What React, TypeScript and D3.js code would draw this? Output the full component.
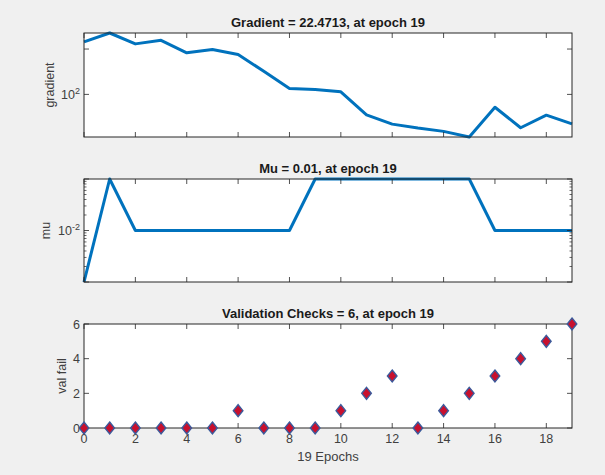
import React from 'react';
import * as d3 from 'd3';

// values
const epochs = d3.range(0, 20);
const gradient = [1437, 2258, 1300, 1556, 826, 975, 759, 323, 135, 129, 114, 35.3, 22.1, 18.1, 15.3, 11.5, 52, 18.4, 34.8, 22.4713];
const mu = [0.001, 0.1, 0.01, 0.01, 0.01, 0.01, 0.01, 0.01, 0.01, 0.1, 0.1, 0.1, 0.1, 0.1, 0.1, 0.1, 0.01, 0.01, 0.01, 0.01];
const valFail = [0, 0, 0, 0, 0, 0, 1, 0, 0, 0, 1, 2, 3, 0, 1, 2, 3, 4, 5, 6];
const xTicks = [0, 2, 4, 6, 8, 10, 12, 14, 16, 18];
const valTicks = [0, 2, 4, 6];

const W = 605;
const H = 475;
const left = 84;
const right = 572;
const font = 'Liberation Sans, Arial, sans-serif';
const axisColor = '#262626';
const lineColor = '#0072BD';

const x = d3.scaleLinear().domain([0, 19]).range([left, right]);

const Panel = ({ top, bottom, title, ylabel, ylabelX, children, yScale, majors, labels, minors, showXLabels }) => {
  return (
    <g>
      <rect x={left} y={top} width={right - left} height={bottom - top} fill="#fff" />
      {children}
      {/* x ticks, top and bottom, inward */}
      {xTicks.map(t => (
        <g key={'xt' + t}>
          <line x1={x(t)} x2={x(t)} y1={bottom} y2={bottom - 5} stroke={axisColor} strokeWidth={0.8} />
          <line x1={x(t)} x2={x(t)} y1={top} y2={top + 5} stroke={axisColor} strokeWidth={0.8} />
        </g>
      ))}
      {majors.map(v => (
        <g key={'ym' + v}>
          <line x1={left} x2={left + 5} y1={yScale(v)} y2={yScale(v)} stroke={axisColor} strokeWidth={0.8} />
          <line x1={right} x2={right - 5} y1={yScale(v)} y2={yScale(v)} stroke={axisColor} strokeWidth={0.8} />
        </g>
      ))}
      {(minors || []).map(v => (
        <g key={'yn' + v}>
          <line x1={left} x2={left + 2.5} y1={yScale(v)} y2={yScale(v)} stroke={axisColor} strokeWidth={0.7} />
          <line x1={right} x2={right - 2.5} y1={yScale(v)} y2={yScale(v)} stroke={axisColor} strokeWidth={0.7} />
        </g>
      ))}
      <rect x={left} y={top} width={right - left} height={bottom - top} fill="none" stroke={axisColor} strokeWidth={1} />
      {labels.map(l => (
        <text key={'yl' + l.v} x={left - 4} y={yScale(l.v) + 4.5} textAnchor="end" fontSize={12.5} fill="#404040" fontFamily={font}>
          {l.base}
          {l.sup && <tspan fontSize={9} dy={-5}>{l.sup}</tspan>}
        </text>
      ))}
      {showXLabels && xTicks.map(t => (
        <text key={'xl' + t} x={x(t)} y={bottom + 15} textAnchor="middle" fontSize={12.5} fill="#404040" fontFamily={font}>{t}</text>
      ))}
      <text x={(left + right) / 2} y={top - 6} textAnchor="middle" fontSize={13} fontWeight="bold" fill="#1a1a1a" fontFamily={font}>{title}</text>
      <text transform={`translate(${ylabelX},${(top + bottom) / 2}) rotate(-90)`} textAnchor="middle" fontSize={12.5} fill="#404040" fontFamily={font}>{ylabel}</text>
    </g>
  );
};

const App = () => {
  // gradient panel
  const g1Top = 33, g1Bottom = 137;
  const yG = d3.scaleLog().domain([d3.min(gradient), d3.max(gradient)]).range([g1Bottom, g1Top]);
  const gradLine = d3.line<number>().x((d, i) => x(epochs[i])).y(d => yG(d));

  // mu panel
  const g2Top = 179, g2Bottom = 282;
  const yM = d3.scaleLog().domain([0.001, 0.1]).range([g2Bottom, g2Top]);
  const muLine = d3.line<number>().x((d, i) => x(epochs[i])).y(d => yM(d));
  const muMinors = [];
  [0.001, 0.01].forEach(dec => d3.range(2, 10).forEach(k => muMinors.push(dec * k)));

  // validation panel
  const g3Top = 324, g3Bottom = 428;
  const yV = d3.scaleLinear().domain([0, 6]).range([g3Bottom, g3Top]);
  const diamond = 'M0,-6L4.8,0L0,6L-4.8,0Z';

  return (
    <svg width={W} height={H} style={{ position: 'fixed', left: 0, top: 0 }}>
      <rect width={W} height={H} fill="#f0f0f0" />
      <Panel top={g1Top} bottom={g1Bottom} title="Gradient = 22.4713, at epoch 19" ylabel="gradient" ylabelX={54}
        yScale={yG} majors={[100, 1000]} labels={[{ v: 100, base: '10', sup: '2' }]}>
        <path d={gradLine(gradient)} fill="none" stroke={lineColor} strokeWidth={3} strokeLinejoin="round" />
      </Panel>
      <Panel top={g2Top} bottom={g2Bottom} title="Mu = 0.01, at epoch 19" ylabel="mu" ylabelX={50}
        yScale={yM} majors={[0.001, 0.01, 0.1]} minors={muMinors} labels={[{ v: 0.01, base: '10', sup: '-2' }]}>
        <path d={muLine(mu)} fill="none" stroke={lineColor} strokeWidth={3} strokeLinejoin="round" />
      </Panel>
      <Panel top={g3Top} bottom={g3Bottom} title="Validation Checks = 6, at epoch 19" ylabel="val fail" ylabelX={66}
        yScale={yV} majors={valTicks} labels={valTicks.map(v => ({ v, base: String(v) }))} showXLabels>
        <g />
      </Panel>
      {valFail.map((v, i) => (
        <path key={'m' + i} d={diamond} transform={`translate(${x(epochs[i])},${yV(v)})`} fill="#c8102e" stroke="#3b5b9c" strokeWidth={1.4} />
      ))}
      <text x={(left + right) / 2} y={461} textAnchor="middle" fontSize={13} fill="#404040" fontFamily={font}>19 Epochs</text>
    </svg>
  );
};

export default App;
